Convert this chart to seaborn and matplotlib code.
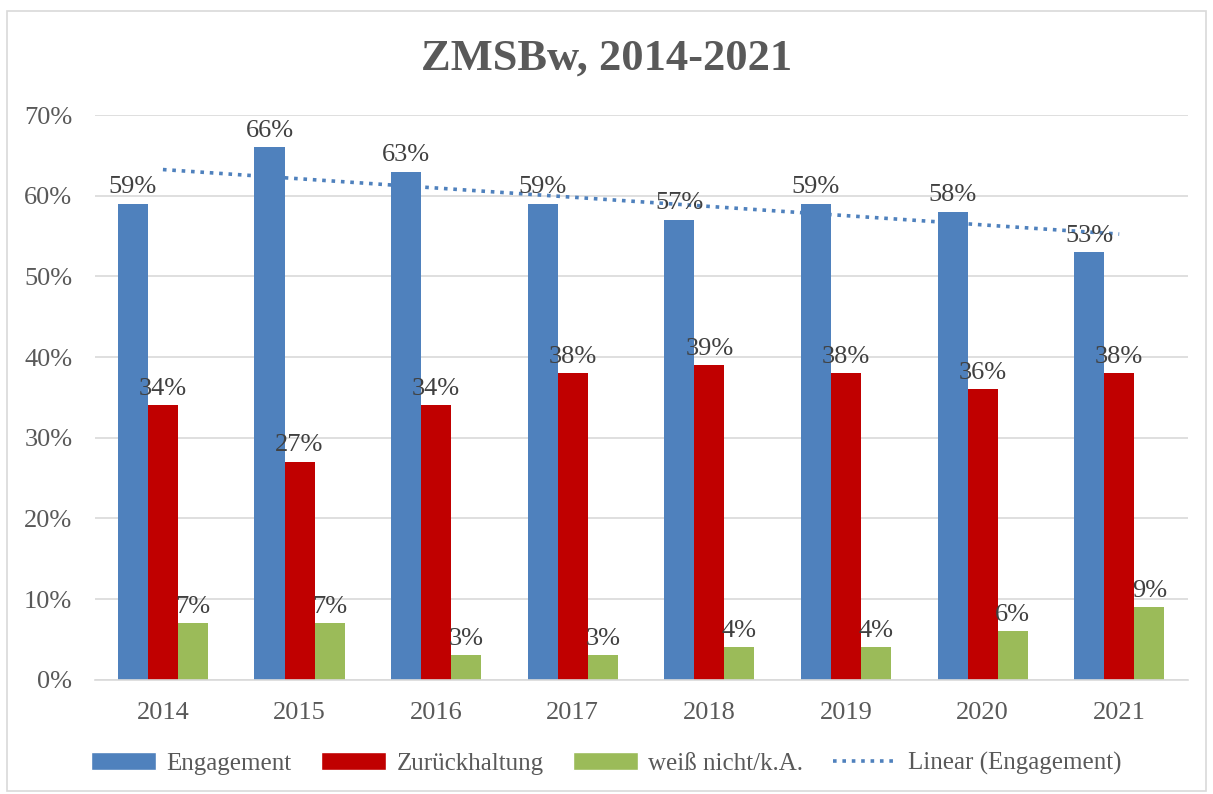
import matplotlib.pyplot as plt
from matplotlib.patches import Patch, Rectangle
from matplotlib.lines import Line2D
import numpy as np
import pandas as pd
import seaborn as sns

# Data
years = ['2014', '2015', '2016', '2017', '2018', '2019', '2020', '2021']
engagement = [59, 66, 63, 59, 57, 59, 58, 53]
zurueckhaltung = [34, 27, 34, 38, 39, 38, 36, 38]
weiss_nicht = [7, 7, 3, 3, 4, 4, 6, 9]
series_names = ['Engagement', 'Zurückhaltung', 'weiß nicht/k.A.']
colors = ['#4F81BD', '#C00000', '#9BBB59']

df = pd.DataFrame({'Jahr': years, series_names[0]: engagement,
                   series_names[1]: zurueckhaltung, series_names[2]: weiss_nicht})
long_df = df.melt(id_vars='Jahr', var_name='Serie', value_name='Wert')

sns.set_style('white')
plt.rcParams['font.family'] = ['Liberation Serif', 'DejaVu Serif']
text_color = '#595959'

fig = plt.figure(figsize=(12.13, 7.94), dpi=100)
ax = fig.add_axes([0.078, 0.144, 0.901, 0.711])

ax = sns.barplot(data=long_df, x='Jahr', y='Wert', hue='Serie', palette=colors,
                 width=0.66, saturation=1, linewidth=0, ax=ax, legend=False, zorder=2)

# Linear trendline over Engagement
xs = np.arange(len(years))
slope, intercept = np.polyfit(xs, engagement, 1)
ax.plot(xs, slope * xs + intercept, linestyle=(0, (1, 1.6)), color='#4F81BD',
        linewidth=2.6, zorder=3)

# Value labels
for c in ax.containers:
    ax.bar_label(c, labels=[f'{v:.0f}%' for v in c.datavalues], fontsize=19,
                 color='#404040', padding=4)

ax.set_xlim(-0.5, 7.5)
ax.set_ylim(0, 70)
ax.set_yticks(range(0, 71, 10))
ax.set_yticklabels([f'{v}%' for v in range(0, 71, 10)])
ax.grid(axis='y', color='#D9D9D9', linewidth=1.2, zorder=0)
ax.set_axisbelow(True)
ax.tick_params(axis='both', labelsize=19, labelcolor=text_color, length=0)
ax.tick_params(axis='y', pad=16)
ax.tick_params(axis='x', pad=16)
ax.set_xlabel('')
ax.set_ylabel('')
for s in ['top', 'right', 'left']:
    ax.spines[s].set_visible(False)
ax.spines['bottom'].set_color('#D9D9D9')
ax.spines['bottom'].set_linewidth(1.2)

fig.suptitle('ZMSBw, 2014-2021', y=0.952, fontsize=32, fontweight='bold', color=text_color)

# Legend
legend_elements = [Patch(facecolor=colors[i], label=series_names[i]) for i in range(3)]
legend_elements.append(Line2D([0], [0], color='#4F81BD', linestyle=(0, (1, 1.6)),
                              linewidth=2.6, label='Linear (Engagement)'))
fig.legend(handles=legend_elements, loc='center', bbox_to_anchor=(0.5, 0.038), ncol=4,
           frameon=False, fontsize=18, labelcolor=text_color, handlelength=2.6,
           handleheight=0.7, columnspacing=1.2, handletextpad=0.4)

# Outer chart border
fig.patches.append(Rectangle((0.006, 0.004), 0.988, 0.982, transform=fig.transFigure,
                             fill=False, edgecolor='#D9D9D9', linewidth=1.2))

fig.savefig('out.png', dpi=100)
